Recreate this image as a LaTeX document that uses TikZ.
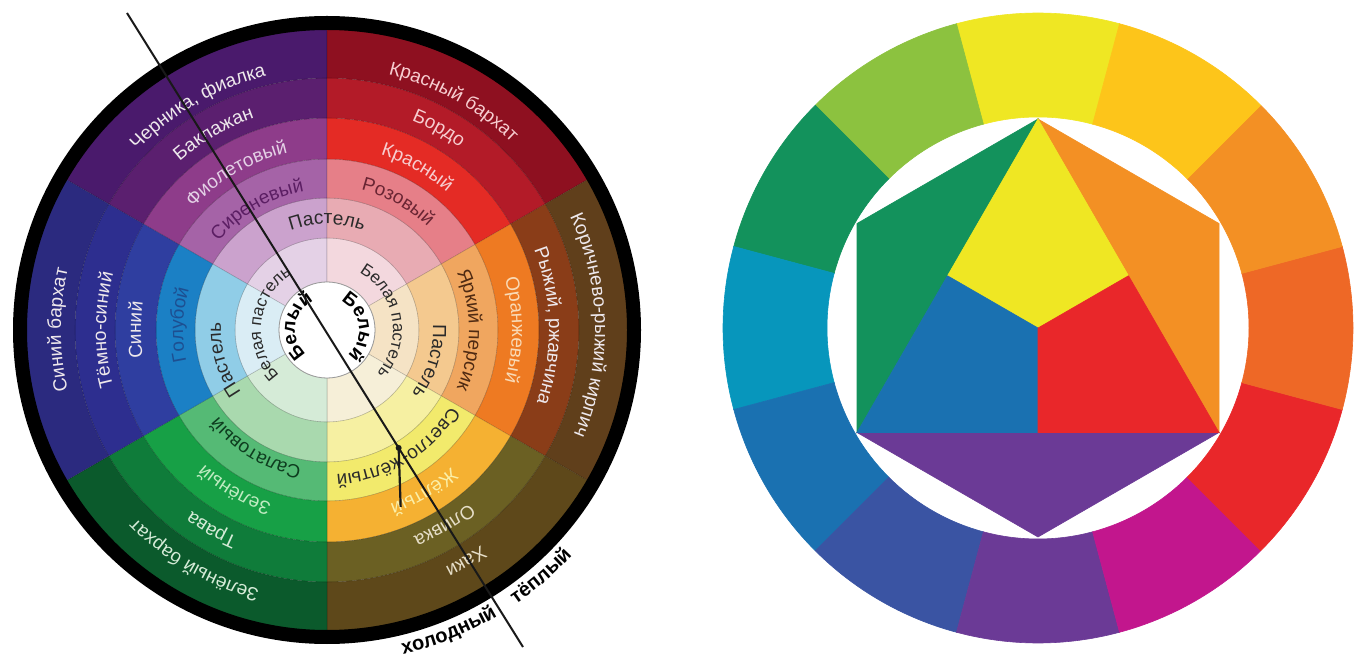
\documentclass[tikz,border=0pt]{standalone}
\usepackage{fontspec}
\newfontfamily\wheelfont{Liberation Sans}
\usetikzlibrary{decorations.text,calc}

% left wheel: sectors (inner ring 1 ... outer ring 6)
\definecolor{pu1}{HTML}{E4D1E6}\definecolor{pu2}{HTML}{CBA2CD}\definecolor{pu3}{HTML}{A563A7}
\definecolor{pu4}{HTML}{8E3C8A}\definecolor{pu5}{HTML}{5B1F6F}\definecolor{pu6}{HTML}{4A1A6C}
\definecolor{re1}{HTML}{F3D8DE}\definecolor{re2}{HTML}{E8ABB3}\definecolor{re3}{HTML}{E67F88}
\definecolor{re4}{HTML}{E42B25}\definecolor{re5}{HTML}{B31B28}\definecolor{re6}{HTML}{8E1020}
\definecolor{or1}{HTML}{F5E3C5}\definecolor{or2}{HTML}{F4C98F}\definecolor{or3}{HTML}{F0A65F}
\definecolor{or4}{HTML}{EE7A22}\definecolor{or5}{HTML}{8A3D18}\definecolor{or6}{HTML}{603F1B}
\definecolor{ye1}{HTML}{F6EFD8}\definecolor{ye2}{HTML}{F6F0A2}\definecolor{ye3}{HTML}{F2EA6C}
\definecolor{ye4}{HTML}{F5B132}\definecolor{ye5}{HTML}{6B6023}\definecolor{ye6}{HTML}{5E481A}
\definecolor{gr1}{HTML}{D5EBD7}\definecolor{gr2}{HTML}{A9D9AE}\definecolor{gr3}{HTML}{55BA75}
\definecolor{gr4}{HTML}{17A046}\definecolor{gr5}{HTML}{0F7C3A}\definecolor{gr6}{HTML}{0B5A2C}
\definecolor{bl1}{HTML}{DAEDF5}\definecolor{bl2}{HTML}{90CDE7}\definecolor{bl3}{HTML}{1B80C5}
\definecolor{bl4}{HTML}{2F3EA0}\definecolor{bl5}{HTML}{2D2E8F}\definecolor{bl6}{HTML}{2B2A7F}
% label colours
\definecolor{txlight}{HTML}{EEE8EC}\definecolor{txdark}{HTML}{2A2A2A}
\definecolor{txlilac}{HTML}{5B1E63}\definecolor{txpink}{HTML}{F7CDD0}
\definecolor{txrose}{HTML}{6A2533}\definecolor{txpaleor}{HTML}{F9DAB6}
\definecolor{txpeach}{HTML}{4F2A12}\definecolor{txpaleye}{HTML}{FBEFA8}
\definecolor{txkhaki}{HTML}{E6DEC8}\definecolor{txlightgr}{HTML}{BFEBC1}
\definecolor{txsalad}{HTML}{0E3D1F}\definecolor{txsky}{HTML}{1D4F91}
% right wheel
\definecolor{itYellow}{HTML}{EFE723}\definecolor{itYelGreen}{HTML}{8CC23F}
\definecolor{itGreen}{HTML}{13925C}\definecolor{itTeal}{HTML}{0796BC}
\definecolor{itBlue}{HTML}{1A71B1}\definecolor{itIndigo}{HTML}{3A54A3}
\definecolor{itViolet}{HTML}{6B3A96}\definecolor{itMagenta}{HTML}{C2168D}
\definecolor{itRed}{HTML}{E9272A}\definecolor{itRedOrange}{HTML}{EE6826}
\definecolor{itOrange}{HTML}{F39024}\definecolor{itYelOrange}{HTML}{FDC51A}

% text set clockwise along a ring, tops outward
\newcommand{\ringlabel}[5][]{%
  \path[decorate,decoration={text along path,text align=center,
      text={|\wheelfont\fontsize{19}{19}\selectfont#1\color{#4}|#5}}]
    (#3+85:#2) arc[start angle=#3+85,end angle=#3-85,radius=#2];}

\begin{document}
\begin{tikzpicture}[x=1pt,y=1pt]
\useasboundingbox (0,0) rectangle (1358,662);

% left wheel
\begin{scope}[shift={(327,332)}]
  \foreach \hue/\ang in {pu/90,re/30,or/-30,ye/-90,gr/-150,bl/150}
    \foreach \rg/\rin/\rout in {1/48/92,2/92/132,3/132/171,4/171/212,5/212/252,6/252/301}
      \filldraw[fill=\hue\rg,draw=black,draw opacity=0.18,line width=0.6]
        (\ang:\rout) arc[start angle=\ang,end angle=\ang+60,radius=\rout]
        -- (\ang+60:\rin) arc[start angle=\ang+60,end angle=\ang,radius=\rin] -- cycle;
  \filldraw[fill=white,draw=black!40,line width=0.8] (0,0) circle[radius=48];
  \draw[line width=14] (0,0) circle[radius=307];

  \ringlabel{261}{120}{txlight}{Черника, фиалка}
  \ringlabel{224}{120}{txlight}{Баклажан}
  \ringlabel{181}{120}{pu1}{Фиолетовый}
  \ringlabel{140}{120}{txlilac}{Сиреневый}
  \ringlabel{106}{90}{txdark}{Пастель}
  \ringlabel{263}{61}{txpink}{Красный бархат}
  \ringlabel{226}{61}{txpink}{Бордо}
  \ringlabel{183}{61}{txpink}{Красный}
  \ringlabel{144}{61}{txrose}{Розовый}
  \ringlabel{268}{1}{txlight}{Коричнево-рыжий кирпич}
  \ringlabel{222}{1}{txlight}{Рыжий, ржавчина}
  \ringlabel{185}{0}{txpaleor}{Оранжевый}
  \ringlabel{142}{0}{txpeach}{Яркий персик}
  \ringlabel{106}{-17}{txdark}{Пастель}
  \ringlabel{265}{-59}{txkhaki}{Хаки}
  \ringlabel{224}{-59}{txkhaki}{Оливка}
  \ringlabel{185}{-59}{txpaleye}{Жёлтый}
  \ringlabel{145}{-59}{txdark}{Светло-жёлтый}
  \ringlabel{268}{240}{gr1}{Зелёный бархат}
  \ringlabel{226}{240}{gr1}{Трава}
  \ringlabel{182}{240}{txlightgr}{Зелёный}
  \ringlabel{139}{239}{txsalad}{Салатовый}
  \ringlabel{266}{180}{txlight}{Синий бархат}
  \ringlabel{221}{180}{txlight}{Тёмно-синий}
  \ringlabel{186}{180}{txlight}{Синий}
  \ringlabel{144}{178}{txsky}{Голубой}
  \ringlabel{106}{196}{txdark}{Пастель}
  \ringlabel[\fontsize{17}{17}\selectfont]{66}{10}{txdark}{Белая пастель}
  \ringlabel[\fontsize{17}{17}\selectfont]{66}{173}{txdark}{Белая пастель}
  \ringlabel[\bfseries]{32}{7}{black}{Белый}
  \ringlabel[\bfseries]{32}{172}{black}{Белый}

  % cold / warm split
  \coordinate (lineTop) at (-200,317);
  \coordinate (lineBot) at (196,-317);
  \draw[line width=2,black!90] (lineTop) -- (lineBot);
  \coordinate (tickA) at ($(lineTop)!0.686!(lineBot)$);
  \coordinate (tickB) at ($(tickA)+(2,-59)$);
  \draw[line width=2.2,black!90] (tickA) -- (tickB);
  \fill[black!90] (tickA) circle[radius=3];
  \path[decorate,decoration={text along path,text align=center,
      text={|\wheelfont\fontsize{20}{20}\selectfont\bfseries|холодный}}]
    (-108:333) arc[start angle=-108,end angle=-28,radius=333];
  \path[decorate,decoration={text along path,text align=center,
      text={|\wheelfont\fontsize{20}{20}\selectfont\bfseries|тёплый}}]
    (-89:333) arc[start angle=-89,end angle=-9,radius=333];
\end{scope}

% right wheel
\begin{scope}[shift={(1038,334)}]
  \foreach \ang/\col in {90/itYellow,120/itYelGreen,150/itGreen,180/itTeal,
      210/itBlue,240/itIndigo,270/itViolet,300/itMagenta,330/itRed,
      360/itRedOrange,30/itOrange,60/itYelOrange}
    \filldraw[fill=\col,draw=\col,line width=0.6]
      (\ang-15:315) arc[start angle=\ang-15,end angle=\ang+15,radius=315]
      -- (\ang+15:211) arc[start angle=\ang+15,end angle=\ang-15,radius=211] -- cycle;

  \coordinate (hTop) at (90:209);
  \coordinate (hUL) at (150:209);
  \coordinate (hLL) at (210:209);
  \coordinate (hBot) at (270:209);
  \coordinate (hLR) at (330:209);
  \coordinate (hUR) at (30:209);
  \coordinate (mL) at (150:104.5);
  \coordinate (mB) at (270:104.5);
  \coordinate (mR) at (30:104.5);
  \coordinate (hC) at (0,0);

  \filldraw[fill=itGreen,draw=itGreen,line width=0.6] (hTop) -- (hUL) -- (hLL) -- cycle;
  \filldraw[fill=itOrange,draw=itOrange,line width=0.6] (hTop) -- (hUR) -- (hLR) -- cycle;
  \filldraw[fill=itViolet,draw=itViolet,line width=0.6] (hLL) -- (hBot) -- (hLR) -- cycle;
  \filldraw[fill=itYellow,draw=itYellow,line width=0.6] (hTop) -- (mL) -- (hC) -- (mR) -- cycle;
  \filldraw[fill=itBlue,draw=itBlue,line width=0.6] (hLL) -- (mB) -- (hC) -- (mL) -- cycle;
  \filldraw[fill=itRed,draw=itRed,line width=0.6] (hLR) -- (mR) -- (hC) -- (mB) -- cycle;
\end{scope}
\end{tikzpicture}
\end{document}
